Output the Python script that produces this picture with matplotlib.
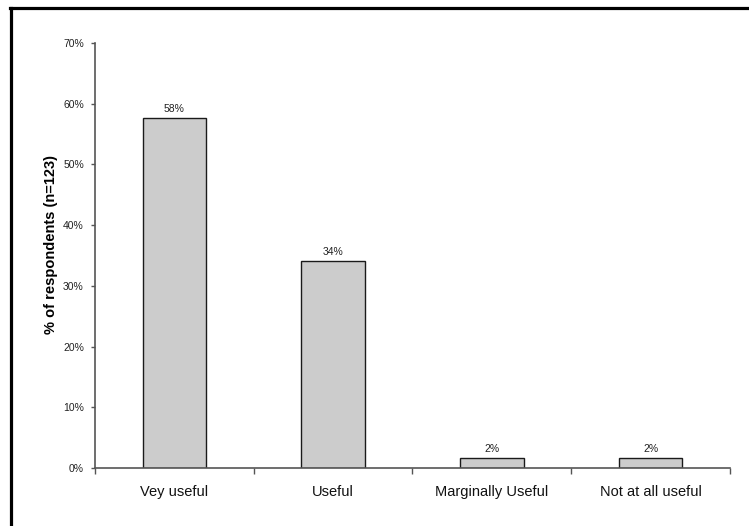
import matplotlib
matplotlib.use("Agg")
import matplotlib.pyplot as plt
from matplotlib.lines import Line2D
from matplotlib.ticker import FixedLocator, FuncFormatter

categories = ["Vey useful", "Useful", "Marginally Useful", "Not at all useful"]
percent = [57.7, 34.1, 1.6, 1.6]
yticks = [0, 10, 20, 30, 40, 50, 60, 70]

plt.rcParams['font.family'] = ['Liberation Sans', 'DejaVu Sans']

fig = plt.figure(figsize=(7.49, 5.26), dpi=100)
ax = fig.add_axes([95 / 749, 58 / 526, 635 / 749, 425 / 526])

x = list(range(len(categories)))
bars = ax.bar(x, percent, width=0.40, color='#cccccc', edgecolor='#1a1a1a', linewidth=1.0)

# value labels above each bar
for b, v in zip(bars, percent):
    ax.annotate("%d%%" % round(v), (b.get_x() + b.get_width() / 2, v),
                xytext=(0, 3), textcoords='offset points',
                ha='center', va='bottom', fontsize=7.5, color='#222222')

ax.set_xlim(-0.5, len(categories) - 0.5)
ax.set_ylim(0, 70)
ax.set_yticks(yticks)
ax.yaxis.set_major_formatter(FuncFormatter(lambda v, p: "%d%%" % v))
ax.tick_params(axis='y', labelsize=7.5, length=3, width=1, color='#555555',
               labelcolor='#222222', pad=5)

# category ticks sit between bars, labels centred under bars
ax.xaxis.set_major_locator(FixedLocator([i - 0.5 for i in range(len(categories) + 1)]))
ax.xaxis.set_major_formatter(FuncFormatter(lambda v, p: ""))
ax.xaxis.set_minor_locator(FixedLocator(x))
ax.set_xticklabels(categories, minor=True)
ax.tick_params(axis='x', which='major', length=4, width=1, color='#555555')
ax.tick_params(axis='x', which='minor', length=0, labelsize=10.5, pad=12,
               labelcolor='#111111')

ax.set_ylabel("% of respondents (n=123)", fontsize=10.5, fontweight='bold')
ax.yaxis.set_label_coords(-0.058, 0.525)

for s in ['top', 'right']:
    ax.spines[s].set_visible(False)
for s in ['left', 'bottom']:
    ax.spines[s].set_color('#555555')
    ax.spines[s].set_linewidth(1.2)

# frame edges along top and left
fig.add_artist(Line2D([10 / 749, 1], [1 - 8 / 526, 1 - 8 / 526],
                      transform=fig.transFigure, color='black', linewidth=2.3))
fig.add_artist(Line2D([11 / 749, 11 / 749], [0, 1 - 8 / 526],
                      transform=fig.transFigure, color='black', linewidth=2.3))

fig.savefig("out.png", dpi=100)
